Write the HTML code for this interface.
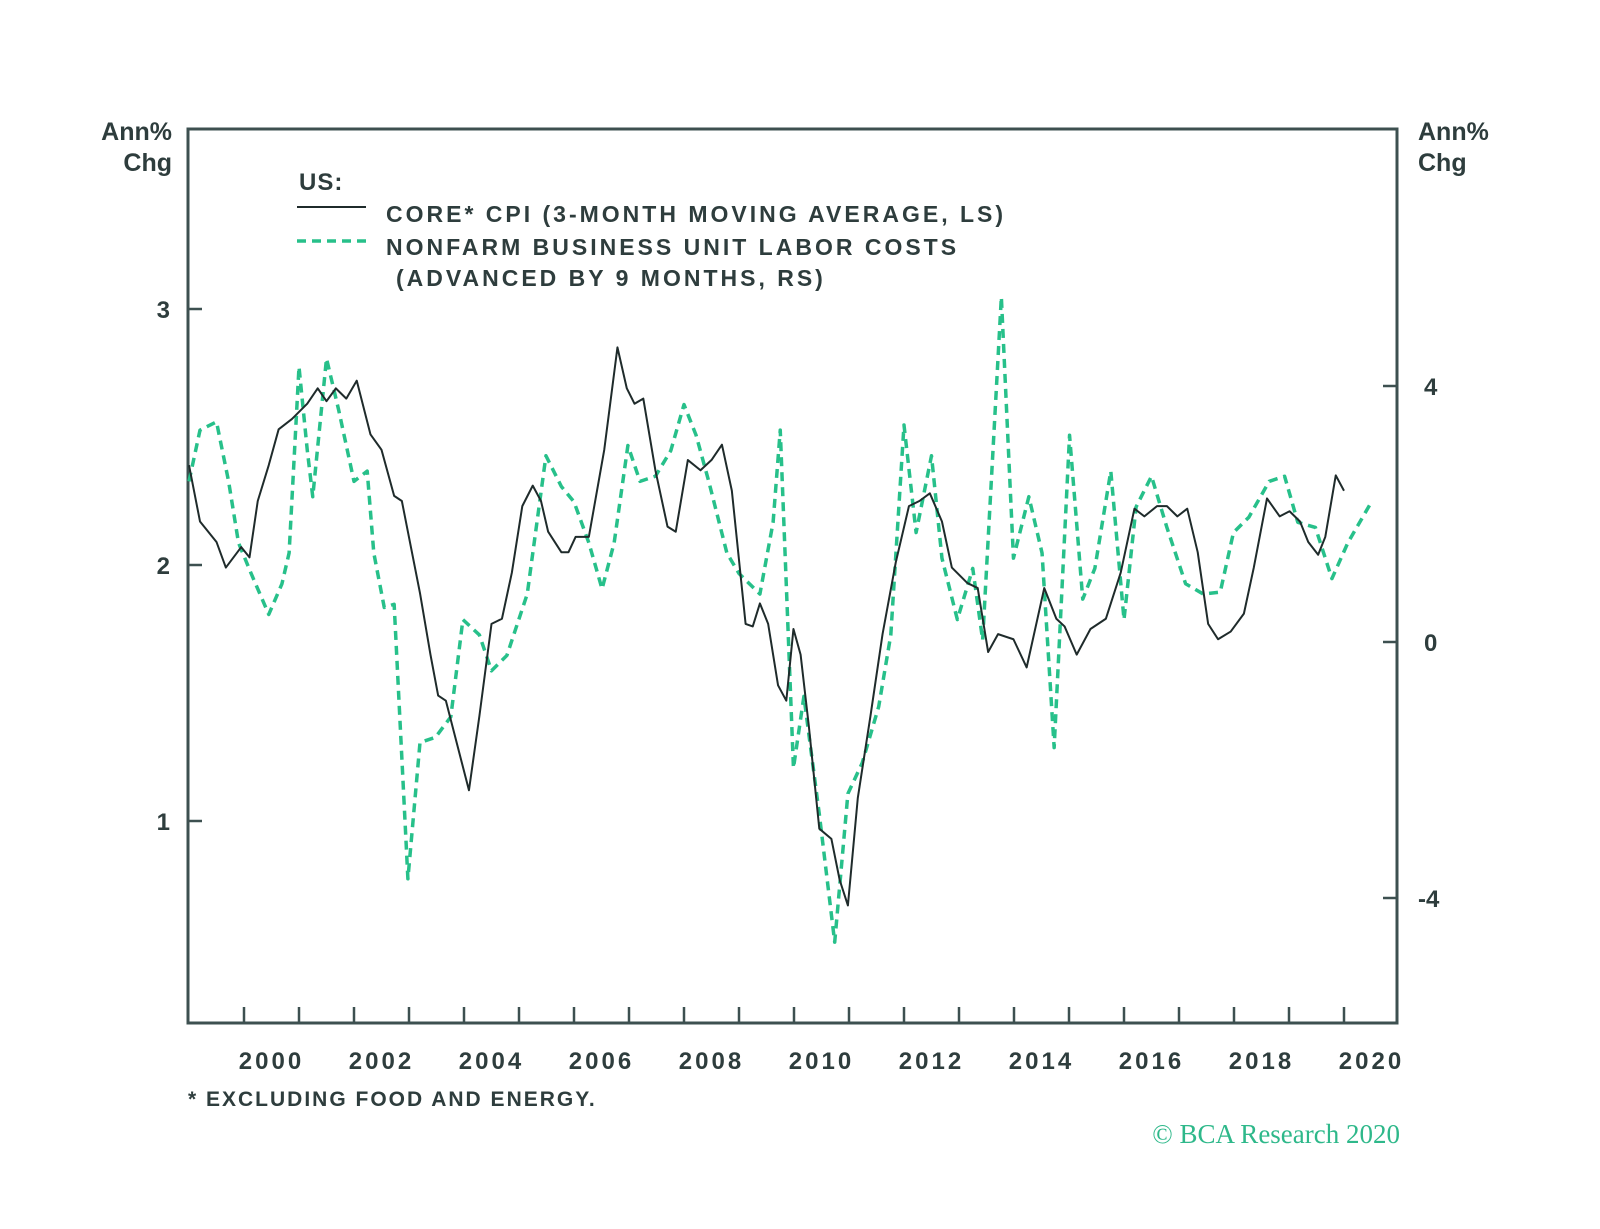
<!DOCTYPE html>
<html><head><meta charset="utf-8"><style>
html,body{margin:0;padding:0;background:#fff;}
svg{display:block;font-family:"Liberation Sans",sans-serif;}
.t{fill:#2e3d3d;font-weight:bold;}
</style></head><body>
<svg id="chart" width="1600" height="1229" viewBox="0 0 1600 1229" xmlns="http://www.w3.org/2000/svg">
<rect width="1600" height="1229" fill="#fff"/>
<g id="axes"></g>
<g id="series"></g>
<text class="t" x="172" y="140" font-size="25" text-anchor="end">Ann%</text>
<text class="t" x="172" y="171" font-size="25" text-anchor="end">Chg</text>
<text class="t" x="1418" y="140" font-size="25">Ann%</text>
<text class="t" x="1418" y="171" font-size="25">Chg</text>
<g>
<text class="t" x="299" y="190" font-size="24" letter-spacing="1">US:</text>
<line x1="297" y1="207" x2="366" y2="207" stroke="#1f2b2b" stroke-width="2"/>
<text class="t" x="386" y="222" font-size="23" letter-spacing="3">CORE* CPI (3-MONTH MOVING AVERAGE, LS)</text>
<line x1="297" y1="241" x2="366" y2="241" stroke="#27c08a" stroke-width="3.5" stroke-dasharray="9 6"/>
<text class="t" x="386" y="255" font-size="23" letter-spacing="3">NONFARM BUSINESS UNIT LABOR COSTS</text>
<text class="t" x="396" y="286" font-size="23" letter-spacing="3">(ADVANCED BY 9 MONTHS, RS)</text>
</g>
<text class="t" x="188" y="1106" font-size="21" letter-spacing="2">* EXCLUDING FOOD AND ENERGY.</text>
<text x="1400" y="1143" font-size="27" text-anchor="end" fill="#2eb88a" font-family="Liberation Serif, serif">© BCA Research 2020</text>
</svg>
<script>
const cpiDates=[1999.0,1999.2,1999.5,1999.67,1999.95,2000.1,2000.25,2000.45,2000.63,2000.87,2001.15,2001.34,2001.5,2001.67,2001.86,2002.05,2002.3,2002.5,2002.73,2002.87,2003.2,2003.39,2003.53,2003.67,2004.09,2004.28,2004.5,2004.69,2004.87,2005.06,2005.25,2005.4,2005.53,2005.77,2005.9,2006.03,2006.27,2006.55,2006.79,2006.96,2007.1,2007.26,2007.48,2007.7,2007.85,2008.07,2008.3,2008.5,2008.69,2008.87,2009.12,2009.25,2009.38,2009.53,2009.71,2009.86,2009.99,2010.12,2010.27,2010.46,2010.68,2010.83,2010.98,2011.16,2011.39,2011.61,2011.85,2012.09,2012.28,2012.47,2012.69,2012.87,2013.15,2013.34,2013.53,2013.71,2013.99,2014.23,2014.55,2014.77,2014.92,2015.14,2015.39,2015.67,2015.94,2016.19,2016.37,2016.6,2016.78,2016.97,2017.15,2017.34,2017.53,2017.71,2017.94,2018.18,2018.36,2018.6,2018.83,2019.01,2019.2,2019.35,2019.53,2019.66,2019.85,2020.0];
const cpiValues=[2.39,2.17,2.09,1.99,2.07,2.03,2.25,2.39,2.53,2.57,2.63,2.69,2.64,2.69,2.65,2.72,2.51,2.45,2.27,2.25,1.89,1.65,1.49,1.47,1.12,1.41,1.77,1.79,1.97,2.23,2.31,2.25,2.13,2.05,2.05,2.11,2.11,2.45,2.85,2.69,2.63,2.65,2.37,2.15,2.13,2.41,2.37,2.41,2.47,2.29,1.77,1.76,1.85,1.77,1.53,1.47,1.75,1.65,1.37,0.97,0.93,0.77,0.67,1.09,1.41,1.73,2.01,2.23,2.25,2.28,2.17,1.99,1.93,1.91,1.66,1.73,1.71,1.60,1.91,1.79,1.76,1.65,1.75,1.79,1.97,2.22,2.19,2.23,2.23,2.19,2.22,2.05,1.77,1.71,1.74,1.81,1.99,2.26,2.19,2.21,2.17,2.09,2.04,2.11,2.35,2.29];
const ulcDates=[1999.0,1999.2,1999.5,1999.72,1999.9,2000.13,2000.45,2000.69,2000.82,2001.0,2001.15,2001.25,2001.5,2001.72,2002.0,2002.24,2002.36,2002.55,2002.73,2002.98,2003.2,2003.48,2003.76,2003.98,2004.28,2004.5,2004.78,2005.15,2005.49,2005.77,2006.0,2006.27,2006.51,2006.73,2006.98,2007.2,2007.48,2007.76,2008.0,2008.22,2008.45,2008.78,2009.0,2009.38,2009.62,2009.75,2009.99,2010.18,2010.46,2010.74,2010.98,2011.24,2011.54,2011.76,2012.0,2012.22,2012.5,2012.69,2012.97,2013.25,2013.43,2013.77,2013.99,2014.27,2014.51,2014.73,2015.01,2015.25,2015.47,2015.76,2016.0,2016.22,2016.5,2016.78,2017.12,2017.44,2017.75,2017.99,2018.27,2018.64,2018.92,2019.16,2019.48,2019.78,2020.07,2020.5];
const ulcValues=[2.51,3.31,3.44,2.51,1.55,1.07,0.43,0.91,1.39,4.30,3.0,2.27,4.43,3.63,2.51,2.67,1.39,0.54,0.59,-3.70,-1.57,-1.49,-1.17,0.35,0.11,-0.45,-0.21,0.75,2.91,2.43,2.19,1.55,0.83,1.55,3.07,2.51,2.59,2.99,3.71,3.23,2.51,1.39,1.07,0.75,1.87,3.31,-1.97,-0.85,-2.69,-4.69,-2.37,-1.89,-1.01,0.11,3.39,1.71,2.91,1.31,0.35,1.15,0.03,5.39,1.31,2.27,1.39,-1.65,3.23,0.67,1.15,2.67,0.35,2.11,2.59,1.79,0.91,0.75,0.78,1.71,1.95,2.51,2.59,1.87,1.79,0.99,1.55,2.19];
const leftTicks=[1,2,3];
const rightTicks=[-4,0,4];
const yearLabels=[2000,2002,2004,2006,2008,2010,2012,2014,2016,2018,2020];

const L=188,R=1397,T=129,B=1023;
const x=yr=>244+(yr-2000)*55.0;
const yL=v=>565-(v-2)*256;
const yR=v=>642-v*64;
const NS='http://www.w3.org/2000/svg';
function mk(tag,attrs,parent){const e=document.createElementNS(NS,tag);for(const k in attrs)e.setAttribute(k,attrs[k]);parent.appendChild(e);return e;}
const axes=document.getElementById('axes');
const ser=document.getElementById('series');
const ac='#3d5050';
let fr=mk('rect',{x:L,y:T,width:R-L,height:B-T,fill:'none',stroke:ac,'stroke-width':3},axes);


leftTicks.forEach(v=>{
  let t=mk('line',{x1:L,x2:L+14,y1:yL(v),y2:yL(v),stroke:ac,'stroke-width':2.5},axes);
  
  
  let l=mk('text',{x:L-18,y:yL(v)+9,'font-size':24,'text-anchor':'end',class:'t'},axes);
  l.textContent=v;
  
  
});
rightTicks.forEach(v=>{
  let t=mk('line',{x1:R-14,x2:R,y1:yR(v),y2:yR(v),stroke:ac,'stroke-width':2.5},axes);
  
  
  let l=mk('text',{x:v<0?1418:1424,y:yR(v)+9,'font-size':24,class:'t'},axes);
  l.textContent=v;
  
  
});
for(let yr=2000;yr<=2020;yr++){
  let t=mk('line',{x1:x(yr),x2:x(yr),y1:B-16,y2:B,stroke:ac,'stroke-width':2.5},axes);
  
  
}
yearLabels.forEach(yr=>{
  let l=mk('text',{x:x(yr+0.5),y:1069,'font-size':24,'text-anchor':'middle','letter-spacing':3,class:'t'},axes);
  l.textContent=yr;
  
  
});
let pu=mk('polyline',{points:ulcDates.map((d,i)=>x(d)+','+yR(ulcValues[i])).join(' '),fill:'none',stroke:'#27c08a','stroke-width':3.5,'stroke-dasharray':'9 6','stroke-linejoin':'round'},ser);


let pc=mk('polyline',{points:cpiDates.map((d,i)=>x(d)+','+yL(cpiValues[i])).join(' '),fill:'none',stroke:'#1f2b2b','stroke-width':2,'stroke-linejoin':'round'},ser);


</script>
</body></html>
